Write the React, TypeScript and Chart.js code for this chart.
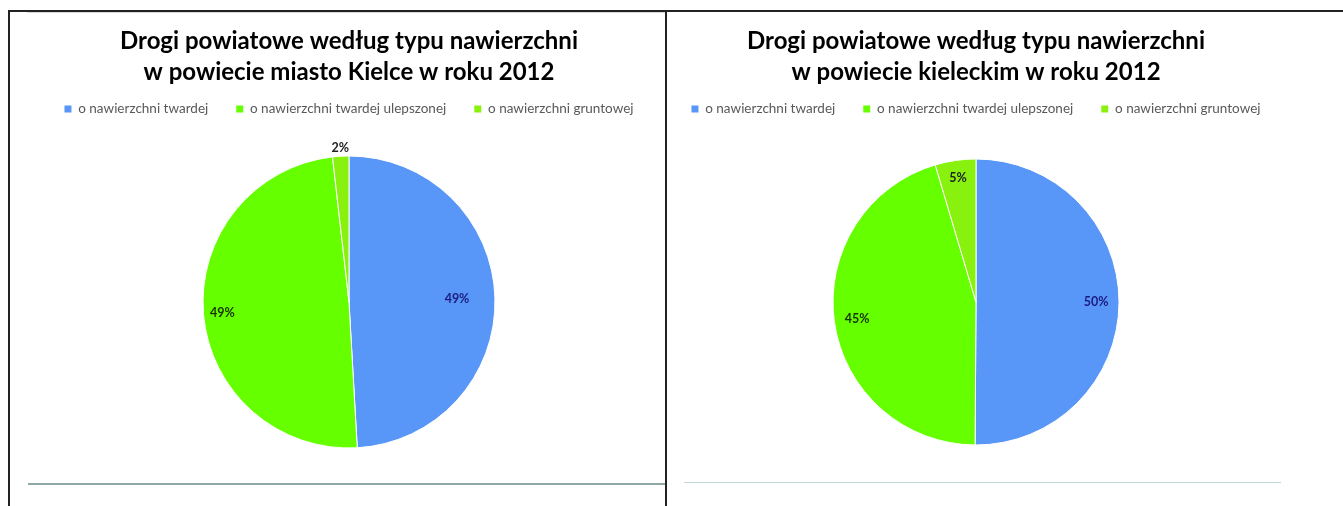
import React, { useEffect, useRef } from 'react';
import Chart from 'chart.js/auto';

const categories = ['o nawierzchni twardej', 'o nawierzchni twardej ulepszonej', 'o nawierzchni gruntowej'];
const kielceValues = [49.1, 49.1, 1.8];
const kieleckiValues = [50.1, 45.3, 4.6];
const kielceTitle = ['Drogi powiatowe według typu nawierzchni', 'w powiecie miasto Kielce w roku 2012'];
const kieleckiTitle = ['Drogi powiatowe według typu nawierzchni', 'w powiecie kieleckim w roku 2012'];
const sliceColors = ['#5896F8', '#66FF00', '#88F20E'];
const labelColors = ['#1c1c80', '#173300', '#222222'];

function makeLabelPlugin(radii: number[]) {
  return {
    id: 'pieLabels',
    afterDatasetsDraw(chart: any) {
      const meta = chart.getDatasetMeta(0);
      const data = chart.data.datasets[0].data as number[];
      const total = data.reduce((a, b) => a + b, 0);
      const ctx = chart.ctx;
      ctx.save();
      ctx.font = 'bold 12.5px Lato';
      ctx.textAlign = 'center';
      ctx.textBaseline = 'middle';
      meta.data.forEach((arc: any, i: number) => {
        const p = arc.getProps(['x', 'y', 'startAngle', 'endAngle', 'outerRadius'], true);
        const mid = (p.startAngle + p.endAngle) / 2;
        const r = p.outerRadius * radii[i];
        ctx.fillStyle = labelColors[i];
        ctx.fillText(Math.round((data[i] / total) * 100) + '%', p.x + Math.cos(mid) * r, p.y + Math.sin(mid) * r);
      });
      ctx.restore();
    },
  };
}

function PieChart({ values, title, radius, radii }: { values: number[]; title: string[]; radius: number; radii: number[] }) {
  const ref = useRef<HTMLCanvasElement>(null);
  useEffect(() => {
    if (!ref.current) return;
    const chart = new Chart(ref.current, {
      type: 'pie',
      data: {
        labels: categories,
        datasets: [
          {
            data: values,
            backgroundColor: sliceColors,
            borderColor: '#ffffff',
            borderWidth: 1,
            radius: radius,
          } as any,
        ],
      },
      options: {
        animation: false,
        responsive: true,
        maintainAspectRatio: false,
        devicePixelRatio: 1,
        events: [],
        layout: { padding: { top: 0, bottom: 27.75, left: 0, right: 0 } },
        plugins: {
          tooltip: { enabled: false },
          title: {
            display: true,
            text: title,
            color: '#000000',
            font: { family: 'Lato', size: 24, weight: 'bold', lineHeight: 31 / 24 },
            padding: { top: 26, bottom: -13.75 },
          },
          legend: {
            display: true,
            position: 'top',
            labels: {
              boxWidth: 7,
              boxHeight: 7,
              padding: 28,
              color: '#595959',
              font: { family: 'Lato', size: 13.5 },
              generateLabels: (c: any) =>
                (Chart as any).overrides.pie.plugins.legend.labels
                  .generateLabels(c)
                  .map((l: any) => ({ ...l, lineWidth: 0, strokeStyle: 'rgba(0,0,0,0)' })),
            },
          },
        },
      } as any,
      plugins: [makeLabelPlugin(radii)],
    });
    return () => chart.destroy();
  }, []);
  return <canvas ref={ref} />;
}

export default function App() {
  const line = (s: React.CSSProperties) => <div style={{ position: 'absolute', zIndex: 5, ...s }} />;
  return (
    <div style={{ position: 'absolute', left: 0, top: 0, width: 1343, height: 506, background: '#fff', overflow: 'hidden' }}>
      <div style={{ position: 'absolute', left: 21, top: 0, width: 656, height: 506 }}>
        <PieChart values={kielceValues} title={kielceTitle} radius={146} radii={[0.74, 0.87, 1.06]} />
      </div>
      <div style={{ position: 'absolute', left: 648, top: 0, width: 656, height: 506 }}>
        <PieChart values={kieleckiValues} title={kieleckiTitle} radius={143} radii={[0.84, 0.84, 0.88]} />
      </div>
      {line({ left: 8, top: 10, width: 1335, height: 2, background: '#222' })}
      {line({ left: 27, top: 12, width: 639, height: 1, background: '#d8d8d8' })}
      {line({ left: 8, top: 10, width: 2, height: 496, background: '#222' })}
      {line({ left: 665, top: 10, width: 2, height: 496, background: '#222' })}
      {line({ left: 28, top: 483, width: 637, height: 2, background: '#8fa9a6' })}
      {line({ left: 684, top: 482, width: 597, height: 1, background: '#c3d8d8' })}
    </div>
  );
}
